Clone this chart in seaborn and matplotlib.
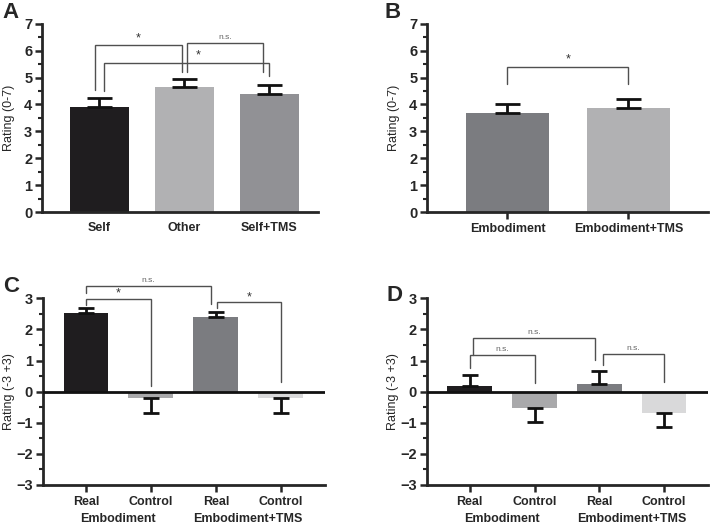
import numpy as np
import pandas as pd
import seaborn as sns
import matplotlib.pyplot as plt
from matplotlib.ticker import MultipleLocator

# panel A
a_labels = ["Self", "Other", "Self+TMS"]
a_means = [3.92, 4.65, 4.40]
a_err = [0.32, 0.31, 0.33]
a_colors = ["#1f1d1f", "#b1b1b3", "#919195"]

# panel B
b_labels = ["Embodiment", "Embodiment+TMS"]
b_means = [3.67, 3.86]
b_err = [0.35, 0.36]
b_colors = ["#7b7c80", "#b1b1b3"]

# panels C and D
cd_labels = ["Real", "Control", "Real ", "Control "]
cd_groups = ["Embodiment", "Embodiment+TMS"]
c_means = [2.53, -0.21, 2.40, -0.21]
c_err = [0.15, 0.47, 0.16, 0.48]
d_means = [0.17, -0.54, 0.24, -0.70]
d_err = [0.37, 0.42, 0.41, 0.45]
cd_colors = ["#1f1d1f", "#a9a9ab", "#7b7c80", "#d9d9da"]

sns.set_style("ticks")
plt.rcParams["font.family"] = ["Liberation Sans", "DejaVu Sans"]

fig = plt.figure(figsize=(7.11, 5.30), dpi=100)
axA = fig.add_axes([0.059, 0.600, 0.388, 0.355])
axB = fig.add_axes([0.6006, 0.600, 0.395, 0.355])
axC = fig.add_axes([0.060, 0.085, 0.397, 0.352])
axD = fig.add_axes([0.600, 0.085, 0.396, 0.352])

BR = "#505050"


def bars(ax, labels, means, errs, colors, capsize):
    df = pd.DataFrame({"cond": labels, "val": means})
    sns.barplot(data=df, x="cond", y="val", hue="cond", palette=colors,
                legend=False, errorbar=None, width=0.69, linewidth=0,
                saturation=1, ax=ax)
    xs = np.arange(len(means))
    m = np.array(means)
    e = np.array(errs)
    lower = np.where(m < 0, e, 0)
    upper = np.where(m >= 0, e, 0)
    ax.errorbar(xs, m, yerr=[lower, upper], fmt="none", ecolor="#111111",
                elinewidth=2, capsize=capsize, capthick=2, zorder=3)


def bracket(ax, x1, x2, y, y1, y2, text, size=9, dy=0.05, tx=None):
    ax.plot([x1, x1, x2, x2], [y1, y, y, y2], color=BR, lw=1, clip_on=False,
            solid_joinstyle="miter")
    if tx is None:
        tx = (x1 + x2) / 2
    ax.text(tx, y + dy, text, ha="center", va="bottom",
            fontsize=size, color="#333333" if text == "*" else "#666666")


def style_axis(ax, ylo, yhi, ylabel, xlab):
    ax.set_ylim(ylo, yhi)
    ax.yaxis.set_major_locator(MultipleLocator(1))
    ax.yaxis.set_minor_locator(MultipleLocator(0.5))
    ax.tick_params(axis="y", which="major", length=5, width=1.8,
                   labelsize=10.5, pad=2)
    ax.tick_params(axis="y", which="minor", length=3, width=1.5)
    ax.tick_params(axis="x", length=5, width=1.8, labelsize=9, pad=3)
    for lab in ax.get_yticklabels() + ax.get_xticklabels():
        lab.set_fontweight("bold")
    ax.set_ylabel(ylabel, fontsize=9)
    ax.yaxis.set_label_coords(xlab, 0.5)
    ax.set_xlabel("")
    for s in ["top", "right"]:
        ax.spines[s].set_visible(False)
    for s in ["left", "bottom"]:
        ax.spines[s].set_linewidth(2)


# A
bars(axA, a_labels, a_means, a_err, a_colors, 9)
axA.set_xlim(-0.676, 2.57)
style_axis(axA, 0, 7, "Rating (0-7)", -0.098)
axA.tick_params(axis="x", length=0, pad=7)
bracket(axA, -0.05, 0.97, 6.2, 4.55, 5.2, "*")
bracket(axA, 1.03, 1.93, 6.3, 5.2, 5.2, "n.s.", size=6)
bracket(axA, 0.05, 2.0, 5.55, 4.5, 5.05, "*", tx=1.16)

# B
bars(axB, b_labels, b_means, b_err, b_colors, 9)
axB.set_xlim(-0.665, 1.657)
style_axis(axB, 0, 7, "Rating (0-7)", -0.096)
bracket(axB, 0, 1, 5.41, 4.76, 4.76, "*")

# C and D
for ax, means, errs in [(axC, c_means, c_err), (axD, d_means, d_err)]:
    bars(ax, cd_labels, means, errs, cd_colors, 6)
    ax.set_xlim(-0.666, 3.68)
    ax.axhline(0, color="#111111", lw=2, zorder=4)
    ax.set_xticks(range(4))
    ax.set_xticklabels([l.strip() for l in cd_labels])
    style_axis(ax, -3, 3, "Rating (-3 +3)", -0.097)
    for i, g in enumerate(cd_groups):
        ax.text(0.5 + 2 * i, -4.08, g, ha="center", va="center",
                fontsize=9, fontweight="bold", clip_on=False)

bracket(axC, 0, 1, 2.98, 2.78, 0.19, "*", dy=-0.02)
bracket(axC, 0, 1.93, 3.4, 3.16, 2.81, "n.s.", size=6, dy=0.05)
bracket(axC, 2.02, 3, 2.87, 2.68, 0.32, "*", dy=-0.02)

bracket(axD, 0, 1, 1.18, 0.75, 0.27, "n.s.", size=6)
bracket(axD, 0.05, 1.93, 1.74, 1.18, 1.02, "n.s.", size=6)
bracket(axD, 2.05, 3, 1.21, 0.86, 0.32, "n.s.", size=6)

# panel letters, positions in figure pixels (left, top)
for letter, px, py in [("A", 2, 2), ("B", 385, 2), ("C", 3, 276), ("D", 387, 285)]:
    fig.text(px / 711, 1 - py / 530, letter, fontsize=16,
             fontweight="bold", ha="left", va="top")

fig.savefig("out.png", dpi=100)
